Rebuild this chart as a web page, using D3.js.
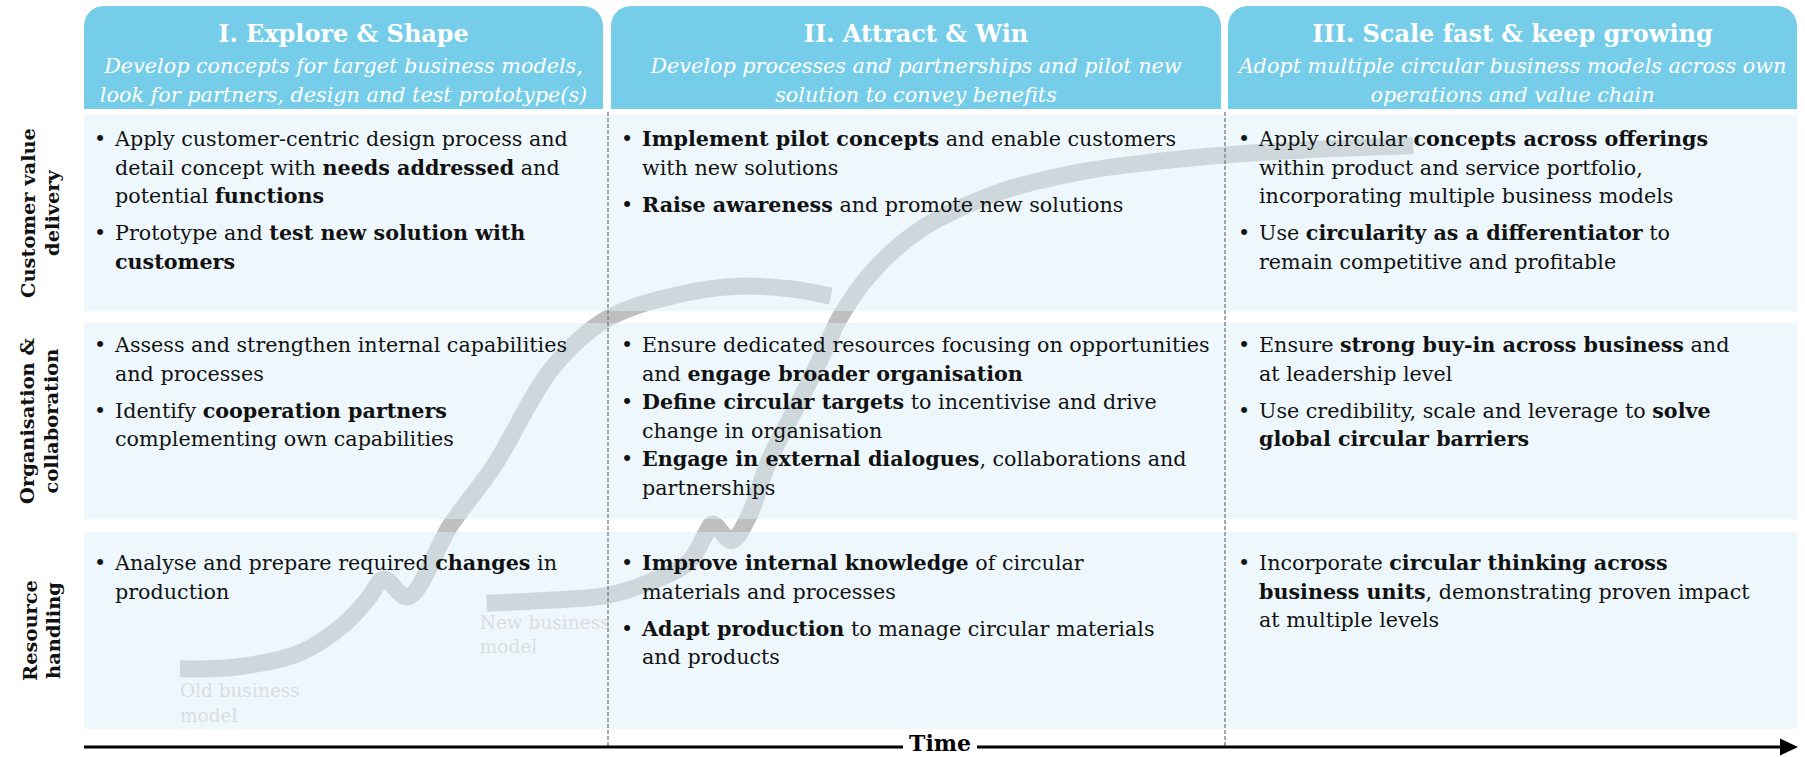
<!DOCTYPE html>
<html><head><meta charset="utf-8">
<script src="https://cdn.jsdelivr.net/npm/d3@7"></script>
<style>html,body{margin:0;padding:0;background:#fff;} svg{display:block;}</style>
</head><body>
<svg id="chart" width="1805" height="757"></svg>
<script>
// ---------------- DATA ----------------
const phases = ["I. Explore & Shape", "II. Attract & Win", "III. Scale fast & keep growing"];
const phaseSubtitles = [
  ["Develop concepts for target business models,", "look for partners, design and test prototype(s)"],
  ["Develop processes and partnerships and pilot new", "solution to convey benefits"],
  ["Adopt multiple circular business models across own", "operations and value chain"]
];
const dimensions = [["Customer value", "delivery"], ["Organisation &", "collaboration"], ["Resource", "handling"]];

// bullets per [dimension][phase]; each bullet = lines; **bold**
const cellBullets = [
  [
    [["Apply customer-centric design process and", "detail concept with **needs addressed** and", "potential **functions**"],
     ["Prototype and **test new solution with**", "**customers**"]],
    [["**Implement pilot concepts** and enable customers", "with new solutions"],
     ["**Raise awareness** and promote new solutions"]],
    [["Apply circular **concepts across offerings**", "within product and service portfolio,", "incorporating multiple business models"],
     ["Use **circularity as a differentiator** to", "remain competitive and profitable"]]
  ],
  [
    [["Assess and strengthen internal capabilities", "and processes"],
     ["Identify **cooperation partners**", "complementing own capabilities"]],
    [["Ensure dedicated resources focusing on opportunities", "and **engage broader organisation**"],
     ["**Define circular targets** to incentivise and drive", "change in organisation"],
     ["**Engage in external dialogues**, collaborations and", "partnerships"]],
    [["Ensure **strong buy-in across business** and", "at leadership level"],
     ["Use credibility, scale and leverage to **solve**", "**global circular barriers**"]]
  ],
  [
    [["Analyse and prepare required **changes** in", "production"]],
    [["**Improve internal knowledge** of circular", "materials and processes"],
     ["**Adapt production** to manage circular materials", "and products"]],
    [["Incorporate **circular thinking across**", "**business units**, demonstrating proven impact", "at multiple levels"]]
  ]
];

const timeLabel = "Time";
const oldModelLabel = ["Old business", "model"];
const newModelLabel = ["New business", "model"];

// S-curves: time (0-100) vs maturity level (0-100)
const oldCurveTime  = [5.6, 8.9, 12.6, 15.2, 16.6, 17.5, 18.9, 21.4, 23.9, 27.4, 30.6, 34.8, 38.2, 41.2, 43.6];
const oldCurveLevel = [9.8, 10.1, 12.4, 17.1, 21.3, 24.4, 21.5, 33.2, 42.7, 59.0, 66.9, 70.8, 72.1, 71.7, 70.5];
const newCurveTime  = [23.5, 27.4, 30.6, 33.0, 35.3, 36.3, 36.7, 37.8, 38.8, 40.0, 41.8, 43.1, 44.1, 45.9, 48.8, 53.5, 58.1, 62.2, 69.2, 77.6];
const newCurveLevel = [20.5, 21.0, 21.8, 23.9, 27.2, 31.8, 33.4, 30.7, 34.6, 43.8, 53.6, 60.9, 66.9, 74.1, 81.3, 87.5, 90.7, 92.3, 94.0, 95.0];

// ---------------- LAYOUT ----------------
const svg = d3.select("#chart");
const FONT = "'DejaVu Serif', Georgia, serif";
const colBounds = [[84, 603], [611, 1221], [1228, 1797]];
const rowBounds = [[115, 311], [323, 519], [532, 729]];
const headerTop = 6, headerBottom = 109, radius = 20;
const headerColor = "#75cde9";

const meas = svg.append("text").attr("x", -2000).attr("y", -2000).style("font-family", FONT);
function fit(text, weight, style, target) {
  meas.attr("font-size", 100).attr("font-weight", weight).attr("font-style", style).text(text);
  const w = meas.node().getComputedTextLength();
  return 100 * target / w;
}
const bodySize = fit("Apply customer-centric design process and", "normal", "normal", 453);
const titleSize = (fit("I. Explore & Shape", "bold", "normal", 253) + fit("III. Scale fast & keep growing", "bold", "normal", 397)) / 2;
const subSize = fit("Develop concepts for target business models,", "normal", "italic", 479);
const dimSize = fit("Customer value", "bold", "normal", 170);
const noteSize = fit("Old business", "normal", "normal", 120);
const timeSize = fit("Time", "bold", "normal", 62);
meas.remove();

const x = d3.scaleLinear().domain([0, 100]).range([84, 1797]);
const y = d3.scaleLinear().domain([0, 100]).range([729, 115]);

// headers
const hdr = svg.append("g");
colBounds.forEach(([x0, x1], i) => {
  hdr.append("path")
    .attr("d", `M${x0},${headerBottom} L${x0},${headerTop + radius} A${radius},${radius} 0 0 1 ${x0 + radius},${headerTop} L${x1 - radius},${headerTop} A${radius},${radius} 0 0 1 ${x1},${headerTop + radius} L${x1},${headerBottom} Z`)
    .attr("fill", headerColor);
  const cx = (x0 + x1) / 2;
  hdr.append("text").attr("x", cx).attr("y", 42).attr("text-anchor", "middle")
    .attr("fill", "#fff").attr("font-family", FONT).attr("font-weight", "bold").attr("font-size", titleSize)
    .text(phases[i]);
  phaseSubtitles[i].forEach((s, k) => {
    hdr.append("text").attr("x", cx).attr("y", 73 + k * 28.5).attr("text-anchor", "middle")
      .attr("fill", "#fff").attr("font-family", FONT).attr("font-style", "italic").attr("font-size", subSize)
      .text(s);
  });
});

// curves (under translucent panels)
const line = d3.line().x(d => x(d[0])).y(d => y(d[1])).curve(d3.curveCatmullRom.alpha(0.5));
const curves = svg.append("g");
[[oldCurveTime, oldCurveLevel], [newCurveTime, newCurveLevel]].forEach(([ts, ls]) => {
  curves.append("path").attr("d", line(ts.map((t, i) => [t, ls[i]])))
    .attr("fill", "none").attr("stroke", "#bfbfbf").attr("stroke-width", 17).attr("stroke-linecap", "butt");
});

// panels
svg.append("g").selectAll("rect").data(rowBounds).join("rect")
  .attr("x", 84).attr("width", 1797 - 84).attr("y", d => d[0]).attr("height", d => d[1] - d[0])
  .attr("fill", "rgb(221,241,249)").attr("fill-opacity", 0.5);

// model labels
const notes = svg.append("g").attr("font-family", FONT).attr("font-size", noteSize).attr("fill", "#dadddf");
oldModelLabel.forEach((s, k) => notes.append("text").attr("x", x(5.6)).attr("y", 697 + k * 25).text(s));
newModelLabel.forEach((s, k) => notes.append("text").attr("x", x(23.1)).attr("y", 629 + k * 24).text(s));

// dashed separators
svg.append("g").selectAll("line").data([608, 1225]).join("line")
  .attr("x1", d => d).attr("x2", d => d).attr("y1", 112).attr("y2", 747)
  .attr("stroke", "#7a7a7a").attr("stroke-width", 1.3).attr("stroke-dasharray", "4,2");

// row labels
const dimG = svg.append("g");
const dimBase = [[35, 59], [34, 58], [37, 60]];
dimensions.forEach((lines, r) => {
  const cy = (rowBounds[r][0] + rowBounds[r][1]) / 2;
  const g = dimG.append("g").attr("transform", `translate(0,${cy}) rotate(-90)`);
  lines.forEach((s, k) => g.append("text").attr("x", 0).attr("y", dimBase[r][k]).attr("text-anchor", "middle")
    .attr("font-family", FONT).attr("font-weight", "bold").attr("font-size", dimSize).attr("fill", "#111").text(s));
});

// cell text
const firstOffset = [31, 29, 38];
const lineH = 28.5;
const cellG = svg.append("g").attr("font-family", FONT).attr("font-size", bodySize).attr("fill", "#111");
cellBullets.forEach((row, r) => {
  row.forEach((bullets, c) => {
    const gap = bullets.length >= 3 ? 0 : 8.5;
    let yy = rowBounds[r][0] + firstOffset[r];
    const bx = colBounds[c][0] + 10, tx = colBounds[c][0] + 31;
    bullets.forEach(lines => {
      cellG.append("text").attr("x", bx).attr("y", yy).text("•");
      lines.forEach(ln => {
        const t = cellG.append("text").attr("x", tx).attr("y", yy);
        ln.split("**").forEach((seg, j) => {
          if (seg === "") return;
          t.append("tspan").attr("font-weight", j % 2 === 1 ? "bold" : "normal").text(seg);
        });
        yy += lineH;
      });
      yy += gap;
    });
  });
});

// time arrow
const ax = svg.append("g");
ax.append("line").attr("x1", 84).attr("x2", 1782).attr("y1", 747).attr("y2", 747).attr("stroke", "#000").attr("stroke-width", 3);
ax.append("path").attr("d", "M1780,738.5 L1798,747 L1780,755.5 Z").attr("fill", "#000");
const tt = ax.append("text").attr("x", 940).attr("y", 751).attr("text-anchor", "middle")
  .attr("font-family", FONT).attr("font-weight", "bold").attr("font-size", timeSize).attr("fill", "#000").text(timeLabel);
const bb = tt.node().getBBox();
ax.insert("rect", "text").attr("x", bb.x - 6).attr("y", 741).attr("width", bb.width + 12).attr("height", 12).attr("fill", "#fff");
</script>
</body></html>
